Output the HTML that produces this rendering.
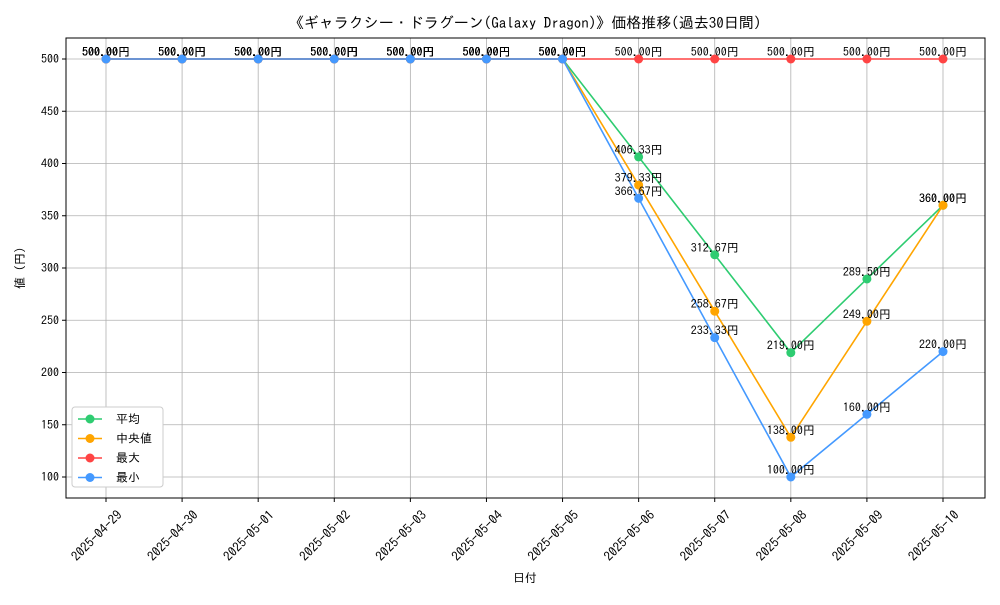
<!DOCTYPE html>
<html><head><meta charset="utf-8"><style>
body{margin:0;background:#fff;}
svg text{font-family:"IPAGothic","Noto Sans CJK JP",sans-serif;}
</style></head><body>
<svg id="chart" width="1000" height="600" xmlns="http://www.w3.org/2000/svg">
<rect width="1000" height="600" fill="#fff"/>
<text x="525" y="28" font-size="15" text-anchor="middle">《ギャラクシー・ドラグーン(Galaxy Dragon)》価格推移(過去30日間)</text>
<g id="grid"></g><g id="axes"></g><g id="series"></g><g id="labels"></g>
<text x="525" y="582" font-size="12" text-anchor="middle">日付</text>
<text transform="translate(24,268) rotate(-90)" font-size="12" text-anchor="middle">値 (円)</text>
<g id="legend"></g>
</svg>
<script>
const dates=["2025-04-29","2025-04-30","2025-05-01","2025-05-02","2025-05-03","2025-05-04","2025-05-05","2025-05-06","2025-05-07","2025-05-08","2025-05-09","2025-05-10"];
const avgVals=[500,500,500,500,500,500,500,406.33,312.67,219,289.5,360];
const medVals=[500,500,500,500,500,500,500,379.33,258.67,138,249,360];
const maxVals=[500,500,500,500,500,500,500,500,500,500,500,500];
const minVals=[500,500,500,500,500,500,500,366.67,233.33,100,160,220];
const yTicks=[100,150,200,250,300,350,400,450,500];
const seriesNames=["平均","中央値","最大","最小"];
const NS="http://www.w3.org/2000/svg";
const L=66,R=985,T=38,B=498;
const xs=i=>106+i*(943-106)/(dates.length-1);
const ys=v=>477-(v-100)*(477-59)/400;
function mk(tag,attrs,parent){const e=document.createElementNS(NS,tag);for(const k in attrs)e.setAttribute(k,attrs[k]);document.getElementById(parent).appendChild(e);return e;}
yTicks.forEach(v=>{
 const g=mk("line",{x1:L,x2:R,y1:ys(v),y2:ys(v),stroke:"#b0b0b0","stroke-width":0.8},"grid");
 
 
 mk("line",{x1:L-4,x2:L,y1:ys(v),y2:ys(v),stroke:"#000"},"axes");
 const t=mk("text",{x:L-7,y:ys(v)+4,"font-size":12,"text-anchor":"end"},"axes");t.textContent=v;
 
 
});
dates.forEach((d,i)=>{
 const g=mk("line",{x1:xs(i),x2:xs(i),y1:T,y2:B,stroke:"#b0b0b0","stroke-width":0.8},"grid");
 
 
 mk("line",{x1:xs(i),x2:xs(i),y1:B,y2:B+4,stroke:"#000"},"axes");
 const t=mk("text",{x:0,y:4,"font-size":13,"text-anchor":"middle",transform:`translate(${xs(i)-9},${B+38}) rotate(-45)`},"axes");t.textContent=d;
 
 
});
const fr=mk("rect",{x:L,y:T,width:R-L,height:B-T,fill:"none",stroke:"#000","stroke-width":1},"axes");


const all=[[avgVals,"#2ecc71","avg"],[medVals,"#ffa500","median"],[maxVals,"#ff4444","max"],[minVals,"#4499ff","min"]];
all.forEach(([vals,c,n])=>{
 const p=mk("polyline",{points:vals.map((v,i)=>xs(i)+","+ys(v)).join(" "),fill:"none",stroke:c,"stroke-width":1.6},"series");
 
 
 vals.forEach((v,i)=>{
  const ci=mk("circle",{cx:xs(i),cy:ys(v),r:4.5,fill:c},"series");
  
  
  const t=mk("text",{x:xs(i),y:ys(v)-3,"font-size":12,"text-anchor":"middle"},"labels");
  t.textContent=v.toFixed(2)+"円";
  
  
 });
});
const lb=mk("rect",{x:72,y:407,width:91,height:80,fill:"#fff",stroke:"#ccc",rx:3},"legend");


all.forEach(([v,c,n],k)=>{
 const y=419+k*19.5;
 mk("line",{x1:78,x2:102,y1:y,y2:y,stroke:c,"stroke-width":1.6},"legend");
 mk("circle",{cx:90,cy:y,r:4.5,fill:c},"legend");
 const t=mk("text",{x:116,y:y+4,"font-size":12},"legend");t.textContent=seriesNames[k];
 
 
});
</script>
</body></html>
